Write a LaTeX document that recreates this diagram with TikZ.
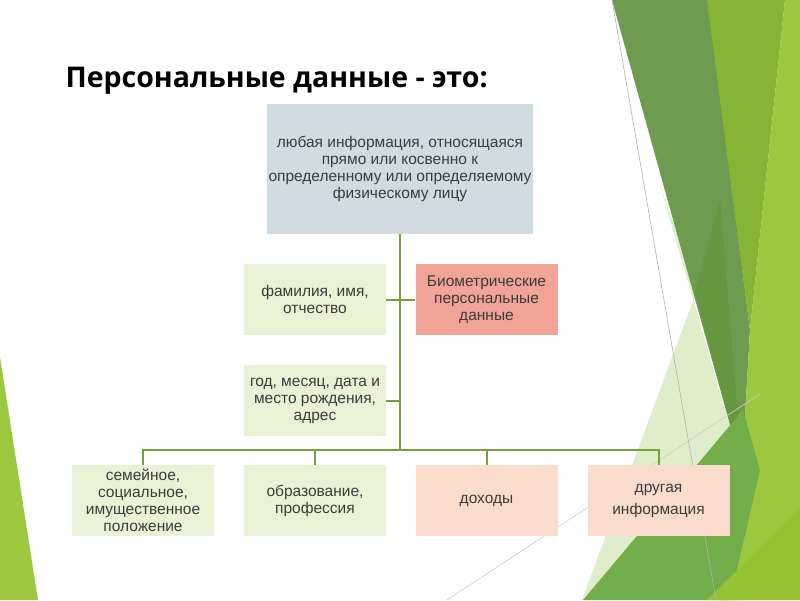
\documentclass[tikz,border=0pt]{standalone}
\usepackage{fontspec}
\setmainfont{Liberation Sans}
\newfontfamily\titlefont{Open Sans}
\usetikzlibrary{calc}

\definecolor{txtgrey}{HTML}{3C3C3C}
\definecolor{linegreen}{HTML}{77A03A}
\definecolor{boxblue}{HTML}{CFDDE3}
\definecolor{boxgreen}{HTML}{EAF2D6}
\definecolor{boxsalmon}{HTML}{F1A397}
\definecolor{boxpeach}{HTML}{F9DCCB}
\definecolor{facetdark}{HTML}{6E9B4F}
\definecolor{facetdeep}{HTML}{66963F}
\definecolor{facetmid}{HTML}{86B535}
\definecolor{facetlime}{HTML}{9CC83F}
\definecolor{facetpale}{HTML}{E0EDCB}
\definecolor{facetgrass}{HTML}{72AE4A}
\definecolor{facetbright}{HTML}{94C233}

\tikzset{
	infobox/.style = {minimum width = 142, minimum height = 71, inner sep = 0, align = center,
		text = txtgrey, font = \fontsize{15.5}{17}\selectfont},
	link/.style = {draw = linegreen, line width = 2},
	facet/.style = {draw = none}
}

\begin{document}
\begin{tikzpicture}[x = 1pt, y = -1pt]
	\useasboundingbox (0, 0) rectangle (800, 600);
	\fill[white] (0, 0) rectangle (800, 600);
	% background facets
	\fill[facet, facetpale] (660, 185) -- (697, 290) -- (582, 600) -- (745, 600) -- (742, 468) -- cycle;
	\fill[facet, facetdark] (612, 0) -- (708, 0) -- (750, 330) -- (742, 468) -- cycle;
	\fill[facet, facetdeep] (720, 200) -- (695, 292) -- (742, 468) -- cycle;
	\fill[facet, facetmid] (707, 0) -- (785, 0) -- (750, 330) -- cycle;
	\fill[facet, facetlime] (785, 0) -- (800, 0) -- (800, 600) -- (720, 600) -- (742, 468) -- (750, 330) -- cycle;
	\fill[facet, facetgrass] (583, 600) -- (743, 410) -- (760, 470) -- (730, 600) -- cycle;
	\fill[facet, facetbright] (707, 600) -- (800, 508) -- (800, 600) -- cycle;
	\fill[facet, facetlime] (0, 357) -- (38, 600) -- (0, 600) -- cycle;
	\draw[gray!60, line width = 0.6] (612, 0) -- (716, 600);
	\draw[gray!40, line width = 0.6] (447, 600) -- (760, 394);

	\node[anchor = base west, font = \titlefont\bfseries\fontsize{28.5}{34}\selectfont] (title) at (62, 87) {Персональные данные - это:};

	\node[infobox, fill = boxblue, minimum width = 266, minimum height = 130] (def) at (400, 169)
		{любая информация, относящаяся\\прямо или косвенно к\\определенному или определяемому\\физическому лицу};
	\node[infobox, fill = boxgreen] (fio) at (315, 299.5) {фамилия, имя,\\отчество};
	\node[infobox, fill = boxsalmon] (bio) at (486.5, 299.5) {Биометрические\\персональные\\данные};
	\node[infobox, fill = boxgreen] (birth) at (315, 400.5) {год, месяц, дата и\\место рождения,\\адрес};
	\node[infobox, fill = boxgreen] (family) at (143, 500.5) {семейное,\\социальное,\\имущественное\\положение};
	\node[infobox, fill = boxgreen] (edu) at (315, 500.5) {образование,\\профессия};
	\node[infobox, fill = boxpeach] (income) at (486.5, 500.5) {доходы};
	\node[infobox, fill = boxpeach] (other) at (658.5, 500.5) {другая\\[5pt]информация};
	\coordinate (bus) at (400, 450);

	\draw[link] (def.south) -- (bus);
	\draw[link] (fio.east) -- (fio.east -| def.south);
	\draw[link] (bio.west) -- (bio.west -| def.south);
	\draw[link] (birth.east) -- (birth.east -| def.south);
	\foreach \leaf in {family, edu, income, other}
		\draw[link] (\leaf.north) |- (bus);
\end{tikzpicture}
\end{document}
